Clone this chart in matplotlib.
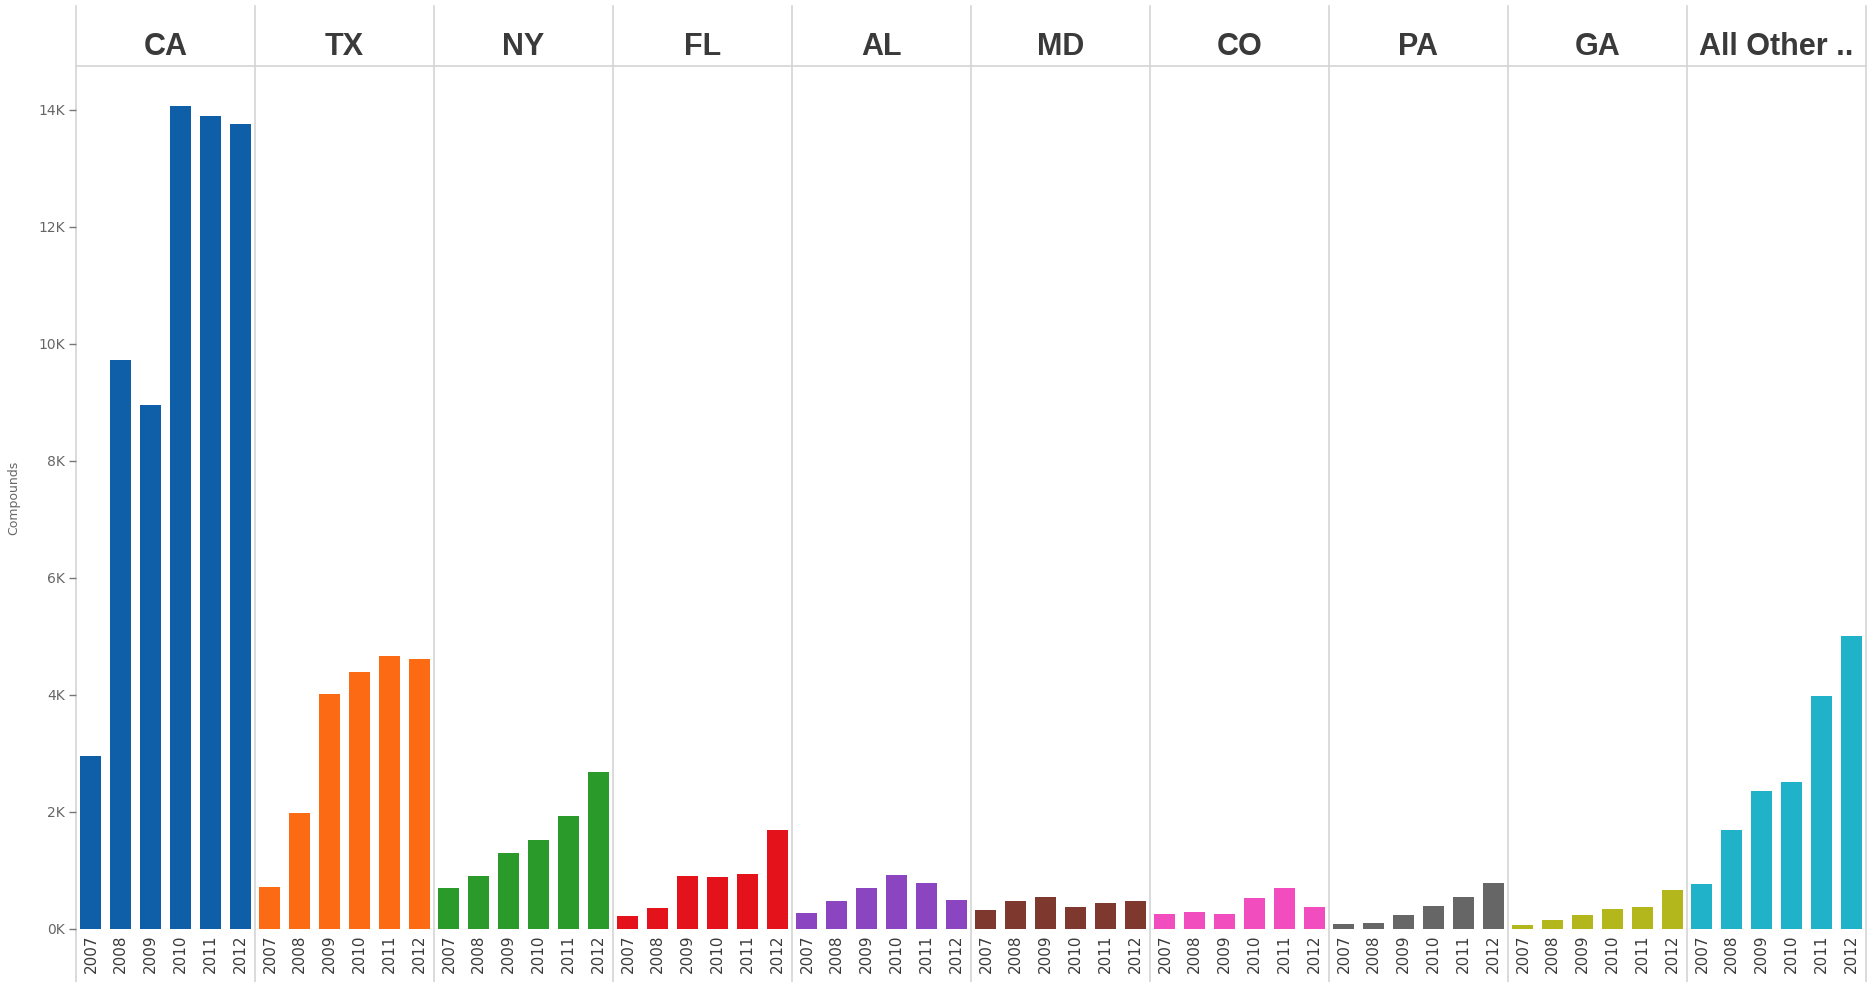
import matplotlib
matplotlib.use('Agg')
import matplotlib.pyplot as plt
import matplotlib.transforms as mtransforms
from matplotlib.ticker import FuncFormatter


states = ['CA', 'TX', 'NY', 'FL', 'AL', 'MD', 'CO', 'PA', 'GA', 'All Other ..']
years = ['2007', '2008', '2009', '2010', '2011', '2012']

# compounds per state per year (2007..2012)
ca = [2950, 9730, 8960, 14060, 13900, 13760]
tx = [710, 1980, 4020, 4390, 4670, 4610]
ny = [700, 910, 1300, 1520, 1930, 2680]
fl = [220, 360, 910, 890, 940, 1690]
al = [270, 480, 700, 920, 780, 500]
md = [320, 480, 550, 380, 440, 480]
co = [260, 290, 260, 530, 700, 380]
pa = [80, 110, 240, 390, 540, 780]
ga = [60, 150, 240, 340, 370, 670]
other = [770, 1690, 2360, 2520, 3980, 5010]

values = [ca, tx, ny, fl, al, md, co, pa, ga, other]

state_colors = ['#0f5fa8', '#fc6a14', '#2a9a2a', '#e4121b', '#8b45c0',
                '#7e382e', '#f24dbf', '#666666', '#b4b71c', '#1fb2c9']

grid_color = '#d4d4d4'


fig = plt.figure(figsize=(18.73, 9.82), dpi=100)
ax = fig.add_axes([76 / 1873, 53 / 982, 1790 / 1873, 863 / 982])

n_years = len(years)
xticks = []
xlabels = []
for i, (state, vals) in enumerate(zip(states, values)):
    xs = [i * n_years + j for j in range(n_years)]
    ax.bar(xs, vals, width=0.7, color=state_colors[i], zorder=3)
    xticks += xs
    xlabels += years

ax.set_xlim(-0.5, len(states) * n_years - 0.5)
ax.set_ylim(0, 14750)

# panel separators, running through header and tick label area
for i in range(len(states) + 1):
    ax.axvline(i * n_years - 0.5, ymin=-0.062, ymax=1.07, color=grid_color,
               lw=1.2, clip_on=False, zorder=1)

# header with state names
trans = mtransforms.blended_transform_factory(ax.transData, ax.transAxes)
for i, state in enumerate(states):
    ax.text(i * n_years + (n_years - 1) / 2, 1.0 + 0.022, state, transform=trans,
            ha='center', va='center', fontsize=22, fontweight='bold',
            family='Liberation Sans', color='#3a3a3a')

for side in ['left', 'right', 'bottom']:
    ax.spines[side].set_visible(False)
ax.spines['top'].set_color(grid_color)
ax.spines['top'].set_linewidth(1.2)

ax.set_xticks(xticks)
ax.set_xticklabels(xlabels, rotation=90, fontsize=11, color='#3a3a3a')
ax.tick_params(axis='x', length=0, pad=4)

ax.set_yticks(range(0, 14001, 2000))
ax.yaxis.set_major_formatter(FuncFormatter(lambda v, p: f'{int(v / 1000)}K'))
ax.tick_params(axis='y', labelsize=10, colors='#777777', length=5, width=1, pad=3)
for lbl in ax.get_yticklabels():
    lbl.set_color('#666666')

ax.set_ylabel('Compounds', fontsize=9, color='#666666', labelpad=18)
ax.yaxis.set_label_coords(-0.031, 0.5)

fig.savefig('out.png', dpi=100, facecolor='white')
